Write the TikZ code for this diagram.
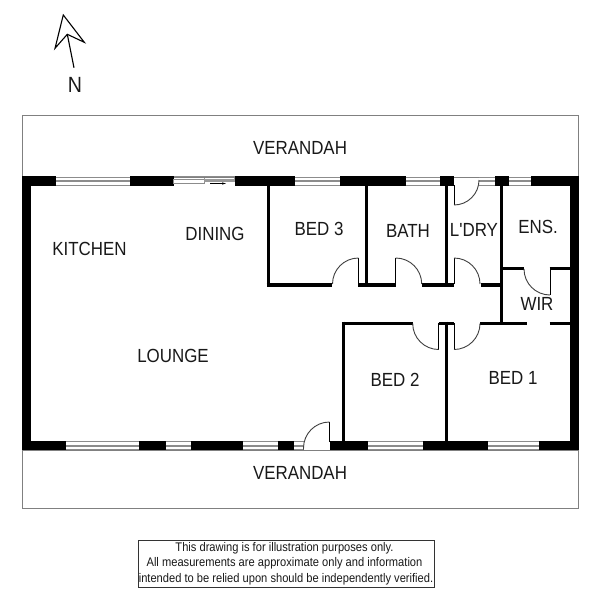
\documentclass[tikz,border=0pt]{standalone}
\usepackage{fontspec}
\setmainfont{Liberation Sans}
\newfontfamily\tallsans[FakeStretch=0.89]{Liberation Sans}
\newcommand{\winH}[3]{% x1,x2,ytop
  \fill[white] (#1,#3) rectangle (#2,#3+9);
  \draw[wingray] (#1,#3+.5) -- (#2,#3+.5);
  \draw[wingray] (#1,#3+8.5) -- (#2,#3+8.5);
  \draw[wingray,line width=1.7pt] (#1,#3+4.5) -- (#2,#3+4.5);
}
\begin{document}
\begin{tikzpicture}[x=1pt,y=-1pt,
  wingray/.style={draw=black!45,line width=.8pt},
  outerwall/.style={fill=black,draw=none},
  partition/.style={draw=black,line width=3.4pt,line cap=butt},
  verandahbox/.style={draw=black!50,line width=.9pt},
  doorline/.style={draw=black!75,line width=.9pt},
  leafline/.style={draw=black,line width=1pt},
  roomlabel/.style={font=\tallsans\fontsize{19}{21}\selectfont,inner sep=0pt,text=black!90},
  noteline/.style={font=\tallsans\fontsize{12.5}{14}\selectfont,inner sep=0pt,text=black!90},
]
\useasboundingbox (0,0) rectangle (600,602);
\fill[white] (0,0) rectangle (600,602);
% verandahs
\draw[verandahbox] (22.5,115) rectangle (578.5,177);
\draw[verandahbox] (22.5,450) rectangle (578.5,508.7);
% outer walls, left and right
\fill[outerwall] (22.3,176.3) rectangle (31.3,450.3);
\fill[outerwall] (570,176.3) rectangle (578.7,450.3);
% top wall
\fill[outerwall] (22.3,176.3) rectangle (56,185.6);
\fill[outerwall] (130,176.3) rectangle (173.5,185.6);
\fill[outerwall] (234.5,176.3) rectangle (295,185.6);
\fill[outerwall] (340,176.3) rectangle (405.5,185.6);
\fill[outerwall] (440.3,176.3) rectangle (454,185.6);
\fill[outerwall] (495,176.3) rectangle (509,185.6);
\fill[outerwall] (531,176.3) rectangle (578.7,185.6);
% top windows
\winH{56}{130}{176.5}
\winH{295}{340}{176.5}
\winH{405.5}{440.3}{176.5}
\winH{479}{495}{176.5}
\winH{509}{531}{176.5}
% sliding door
\draw[wingray] (173.5,176.8) -- (234.5,176.8);
\draw[wingray] (173.5,179.3) -- (204,179.3) -- (204,183) -- (173.5,183) -- cycle;
\draw[wingray] (204,179.6) -- (234.5,179.6);
\fill[black!40] (204,177.5) rectangle (234.5,182);
\fill[white] (205,178.2) rectangle (234,179.2);
\draw[black,line width=.7pt] (210,183.5) -- (224,183.5);
\fill[black] (222,182.4) -- (226,183.5) -- (222,184.6) -- cycle;
% bottom wall
\fill[outerwall] (22.3,441.3) rectangle (66,450.3);
\fill[outerwall] (139,441.3) rectangle (165.7,450.3);
\fill[outerwall] (190.5,441.3) rectangle (242.7,450.3);
\fill[outerwall] (277.5,441.3) rectangle (294.3,450.3);
\fill[outerwall] (329.5,441.3) rectangle (367.5,450.3);
\fill[outerwall] (422.7,441.3) rectangle (488,450.3);
\fill[outerwall] (538.7,441.3) rectangle (578.7,450.3);
% bottom windows
\winH{66}{139}{441.3}
\winH{165.7}{190.5}{441.3}
\winH{242.7}{277.5}{441.3}
\winH{294.3}{303.5}{441.3}
\winH{367.5}{422.7}{441.3}
\winH{488}{538.7}{441.3}
% partitions, vertical
\draw[partition] (268.3,185) -- (268.3,286.7);
\draw[partition] (366.7,185) -- (366.7,286.7);
\draw[partition] (446.7,185) -- (446.7,286.7);
\draw[partition] (501.7,185) -- (501.7,325);
\draw[partition] (343.5,321.6) -- (343.5,442);
\draw[partition] (446.7,321.6) -- (446.7,442);
% partitions, horizontal
\draw[partition] (266.6,285) -- (332.3,285);
\draw[partition] (358,285) -- (395.7,285);
\draw[partition] (421.7,285) -- (454.3,285);
\draw[partition] (480.7,285) -- (503.4,285);
\draw[partition] (500,268.7) -- (524,268.7);
\draw[partition] (549.7,268.7) -- (571,268.7);
\draw[partition] (341.8,323.3) -- (413,323.3);
\draw[partition] (438.7,323.3) -- (454.3,323.3);
\draw[partition] (480,323.3) -- (526.7,323.3);
\draw[partition] (549.7,323.3) -- (571,323.3);
% doors
\draw[leafline] (358.5,284) -- (358.5,258);
\draw[doorline] (358.5,258) arc[start angle=-90,end angle=-180,radius=26];
\draw[leafline] (395.7,284) -- (395.7,258);
\draw[doorline] (395.7,258) arc[start angle=-90,end angle=0,radius=26];
\draw[leafline] (454,284) -- (454,258);
\draw[doorline] (454,258) arc[start angle=-90,end angle=0,radius=26];
\draw[leafline] (454,185) -- (454,205);
\draw[doorline] (454,205) arc[start angle=90,end angle=0,radius=25];
\draw[leafline] (550,269) -- (550,295);
\draw[doorline] (550,295) arc[start angle=90,end angle=180,radius=26];
\draw[leafline] (438.7,323) -- (438.7,349.5);
\draw[doorline] (438.7,349.5) arc[start angle=90,end angle=180,radius=26];
\draw[leafline] (454,323) -- (454,349.5);
\draw[doorline] (454,349.5) arc[start angle=90,end angle=0,radius=26];
\draw[leafline] (329.5,442) -- (329.5,422);
\draw[doorline] (329.5,422) arc[start angle=-90,end angle=-180,radius=26] -- (303.5,449.5);
% north arrow
\coordinate (tip) at (63.3,15);
\coordinate (rightwing) at (84.3,42.3);
\coordinate (notch) at (67.3,34.3);
\coordinate (leftwing) at (55,48.3);
\coordinate (tail) at (74,67.7);
\draw[black,line width=1.1pt,line join=miter] (tip) -- (rightwing) -- (notch) -- (leftwing) -- cycle;
\draw[black,line width=1.1pt] (notch) -- (tail);
\node[roomlabel,font=\tallsans\fontsize{22}{24}\selectfont] (north) at (75,84.5) {N};
% labels
\node[roomlabel] (vtop) at (300,148) {VERANDAH};
\node[roomlabel] (vbot) at (300,473) {VERANDAH};
\node[roomlabel] (kitchen) at (89.5,249) {KITCHEN};
\node[roomlabel] (dining) at (215,234) {DINING};
\node[roomlabel] (lounge) at (173,356) {LOUNGE};
\node[roomlabel] (bed3) at (319,229) {BED 3};
\node[roomlabel] (bath) at (408,231) {BATH};
\node[roomlabel] (ldry) at (474,230) {L'DRY};
\node[roomlabel] (ens) at (538,226.5) {ENS.};
\node[roomlabel] (wir) at (537,304) {WIR};
\node[roomlabel] (bed2) at (395,380) {BED 2};
\node[roomlabel] (bed1) at (513,378) {BED 1};
% note
\node[draw=black!80,line width=.7pt,minimum width=296pt,minimum height=47pt,inner sep=0pt] (notebox) at (286.5,563.8) {};
\node[noteline] (noteA) at (284.5,548.7) {This drawing is for illustration purposes only.};
\node[noteline] (noteB) at (284.5,563.7) {All measurements are approximate only and information};
\node[noteline] (noteC) at (286,579) {intended to be relied upon should be independently verified.};
\end{tikzpicture}
\end{document}
